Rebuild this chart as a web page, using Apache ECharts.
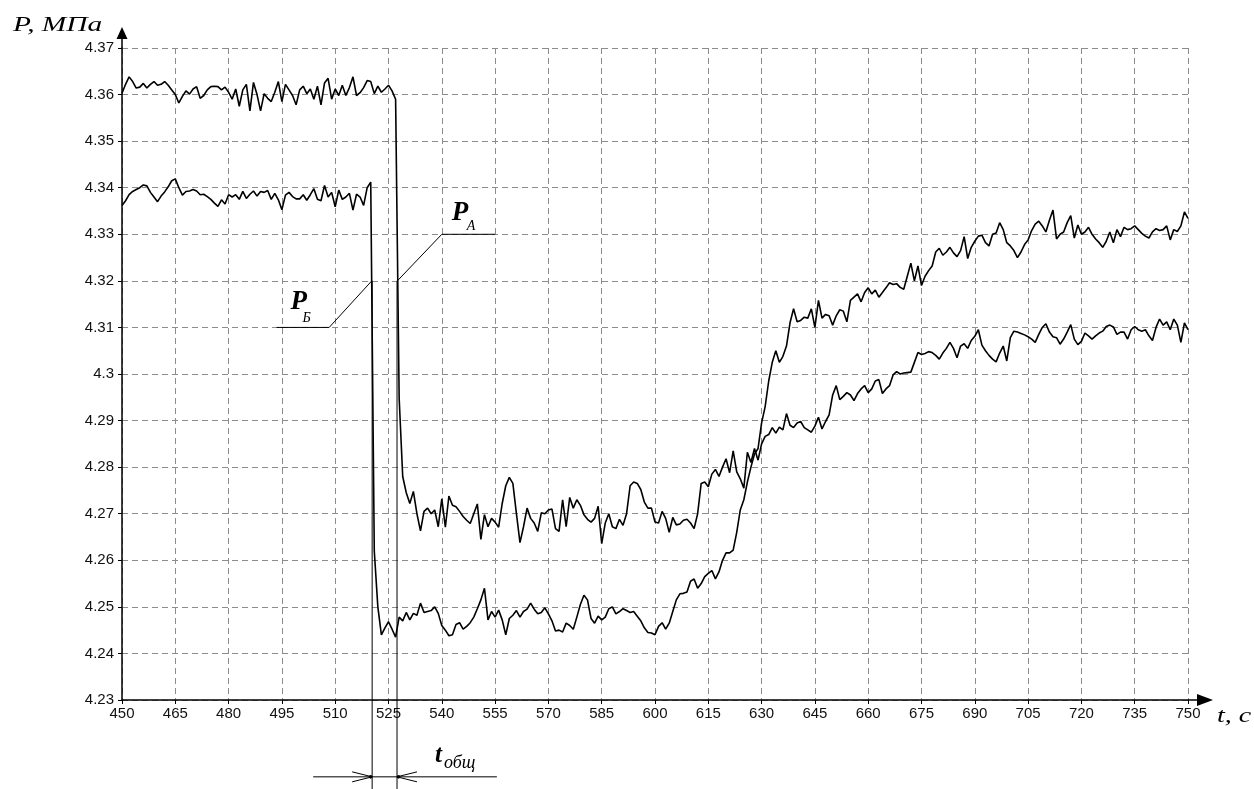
<!DOCTYPE html>
<html><head><meta charset="utf-8">
<script src="https://cdn.jsdelivr.net/npm/echarts@6/dist/echarts.min.js"></script>
<style>html,body{margin:0;padding:0;background:#fff}#c{width:1254px;height:789px}</style>
</head><body><div id="c"></div>
<script>
// time axis: samples every second from 450 s to 750 s
const timeStart = 450;
const timeStep = 1;
const xMin = 450, xMax = 750, xInterval = 15;
const yMin = 4.23, yMax = 4.37, yInterval = 0.01;
const yAxisName = 'P, МПа';
const xAxisName = 't, c';

// P_A : pressure (upper before the drop)
const pressureA = [
 4.3603,4.3622,4.3638,4.3628,4.3614,4.3616,4.3624,4.3614,4.3622,4.3628,
 4.3620,4.3622,4.3628,4.3620,4.3610,4.3600,4.3582,4.3596,4.3608,4.3601,
 4.3612,4.3617,4.3592,4.3598,4.3610,4.3617,4.3618,4.3617,4.3610,4.3616,
 4.3605,4.3590,4.3612,4.3575,4.3610,4.3622,4.3565,4.3626,4.3600,4.3565,
 4.3602,4.3592,4.3585,4.3605,4.3628,4.3585,4.3622,4.3610,4.3598,4.3578,
 4.3610,4.3618,4.3602,4.3612,4.3590,4.3618,4.3578,4.3625,4.3635,4.3590,
 4.3612,4.3598,4.3620,4.3598,4.3615,4.3638,4.3598,4.3604,4.3615,4.3630,
 4.3628,4.3602,4.3618,4.3605,4.3612,4.3620,4.3608,4.3590,4.2948,4.2780,
 4.2745,4.2722,4.2748,4.2700,4.2663,4.2705,4.2712,4.2700,4.2708,4.2672,
 4.2732,4.2671,4.2738,4.2718,4.2715,4.2705,4.2694,4.2686,4.2679,4.2700,
 4.2721,4.2645,4.2698,4.2672,4.2690,4.2682,4.2671,4.2722,4.2760,4.2778,
 4.2765,4.2700,4.2638,4.2672,4.2712,4.2690,4.2680,4.2662,4.2702,4.2700,
 4.2708,4.2710,4.2668,4.2662,4.2730,4.2672,4.2735,4.2712,4.2730,4.2718,
 4.2698,4.2688,4.2682,4.2690,4.2716,4.2636,4.2680,4.2700,4.2672,4.2668,
 4.2688,4.2675,4.2700,4.2760,4.2768,4.2765,4.2752,4.2725,4.2712,4.2712,
 4.2682,4.2680,4.2705,4.2690,4.2660,4.2692,4.2676,4.2678,4.2686,4.2688,
 4.2680,4.2668,4.2700,4.2765,4.2768,4.2758,4.2785,4.2795,4.2780,4.2800,
 4.2818,4.2788,4.2835,4.2790,4.2775,4.2755,4.2832,4.2810,4.2840,4.2815,
 4.2850,4.2866,4.2870,4.2885,4.2873,4.2886,4.2880,4.2915,4.2890,4.2885,
 4.2895,4.2898,4.2885,4.2880,4.2875,4.2888,4.2907,4.2882,4.2898,4.2912,
 4.2955,4.2975,4.2945,4.2952,4.2960,4.2955,4.2943,4.2958,4.2968,4.2975,
 4.2960,4.2968,4.2985,4.2988,4.2958,4.2968,4.2975,4.2998,4.3005,4.3000,
 4.3002,4.3003,4.3004,4.3025,4.3046,4.3042,4.3044,4.3048,4.3046,4.3040,
 4.3032,4.3045,4.3055,4.3068,4.3055,4.3035,4.3060,4.3065,4.3055,4.3072,
 4.3081,4.3095,4.3062,4.3050,4.3040,4.3032,4.3026,4.3045,4.3060,4.3028,
 4.3078,4.3092,4.3090,4.3087,4.3084,4.3080,4.3075,4.3068,4.3085,4.3100,
 4.3108,4.3090,4.3080,4.3078,4.3064,4.3075,4.3090,4.3106,4.3075,4.3063,
 4.3070,4.3088,4.3082,4.3075,4.3082,4.3088,4.3092,4.3102,4.3105,4.3101,
 4.3085,4.3090,4.3090,4.3075,4.3095,4.3102,4.3095,4.3092,4.3095,4.3082,
 4.3072,4.3100,4.3118,4.3105,4.3112,4.3095,4.3118,4.3105,4.3068,4.3110,
 4.3095
];

// P_Б : pressure (lower before the drop)
const pressureB = [
 4.3362,4.3372,4.3385,4.3392,4.3396,4.3400,4.3406,4.3404,4.3390,4.3380,
 4.3370,4.3382,4.3391,4.3402,4.3415,4.3419,4.3400,4.3384,4.3392,4.3393,
 4.3396,4.3393,4.3385,4.3386,4.3381,4.3375,4.3367,4.3360,4.3374,4.3365,
 4.3385,4.3380,4.3385,4.3375,4.3392,4.3377,4.3386,4.3393,4.3382,4.3392,
 4.3390,4.3394,4.3375,4.3388,4.3374,4.3353,4.3384,4.3390,4.3381,4.3376,
 4.3376,4.3385,4.3373,4.3385,4.3398,4.3375,4.3372,4.3405,4.3380,4.3390,
 4.3359,4.3395,4.3375,4.3380,4.3388,4.3352,4.3386,4.3380,4.3362,4.3400,
 4.3412,4.2620,4.2500,4.2440,4.2455,4.2468,4.2452,4.2435,4.2478,4.2470,
 4.2488,4.2472,4.2486,4.2482,4.2508,4.2488,4.2490,4.2492,4.2500,4.2486,
 4.2460,4.2450,4.2438,4.2440,4.2462,4.2466,4.2452,4.2458,4.2466,4.2478,
 4.2496,4.2515,4.2540,4.2472,4.2490,4.2478,4.2493,4.2472,4.2440,4.2475,
 4.2482,4.2492,4.2478,4.2490,4.2495,4.2508,4.2495,4.2485,4.2488,4.2498,
 4.2485,4.2470,4.2448,4.2450,4.2446,4.2465,4.2460,4.2452,4.2478,4.2505,
 4.2525,4.2515,4.2475,4.2465,4.2480,4.2472,4.2478,4.2496,4.2500,4.2485,
 4.2490,4.2496,4.2492,4.2488,4.2490,4.2480,4.2470,4.2455,4.2445,4.2444,
 4.2440,4.2458,4.2466,4.2452,4.2465,4.2490,4.2515,4.2528,4.2529,4.2532,
 4.2555,4.2560,4.2540,4.2550,4.2565,4.2572,4.2578,4.2560,4.2575,4.2600,
 4.2616,4.2616,4.2622,4.2660,4.2708,4.2730,4.2768,4.2800,4.2828,4.2840,
 4.2895,4.2930,4.2985,4.3025,4.3050,4.3025,4.3038,4.3060,4.3110,4.3140,
 4.3112,4.3115,4.3122,4.3120,4.3140,4.3100,4.3158,4.3120,4.3128,4.3125,
 4.3105,4.3125,4.3138,4.3135,4.3112,4.3158,4.3165,4.3172,4.3155,4.3175,
 4.3185,4.3172,4.3180,4.3165,4.3175,4.3185,4.3196,4.3192,4.3194,4.3186,
 4.3182,4.3210,4.3238,4.3200,4.3232,4.3190,4.3210,4.3222,4.3232,4.3262,
 4.3270,4.3255,4.3262,4.3272,4.3260,4.3252,4.3265,4.3295,4.3248,4.3272,
 4.3285,4.3296,4.3298,4.3282,4.3275,4.3300,4.3303,4.3325,4.3310,4.3282,
 4.3275,4.3265,4.3250,4.3262,4.3278,4.3288,4.3308,4.3322,4.3328,4.3318,
 4.3305,4.3330,4.3352,4.3290,4.3300,4.3305,4.3325,4.3340,4.3292,4.3320,
 4.3300,4.3305,4.3315,4.3300,4.3290,4.3282,4.3272,4.3285,4.3305,4.3282,
 4.3310,4.3295,4.3315,4.3310,4.3312,4.3318,4.3310,4.3302,4.3296,4.3292,
 4.3305,4.3312,4.3308,4.3310,4.3318,4.3288,4.3310,4.3306,4.3318,4.3348,
 4.3334
];

// annotation anchors (data coordinates)
const leaderB = [[493.5, 4.31], [508.3, 4.31], [520.3, 4.32]];
const leaderA = [[527.5, 4.32], [540.0, 4.33], [555.0, 4.33]];
const dropTimes = [520.4, 527.4];
const dimLevel = 4.2135;
const dimSpan = [503.8, 555.5];

const toPairs = vals => vals.map((v, i) => [timeStart + i * timeStep, v]);

const chart = echarts.init(document.getElementById('c'), null, {renderer: 'canvas'});
const lineStyle = {color: '#000', width: 1.6};
const labelFont = {fontFamily: 'Liberation Sans, Arial, sans-serif', fontSize: 15, color: '#111'};

chart.setOption({
  animation: false,
  backgroundColor: '#fff',
  grid: {left: 122, right: 66, top: 48, bottom: 89, containLabel: false, outerBoundsMode: 'none'},
  xAxis: {
    type: 'value', min: xMin, max: xMax, interval: xInterval,
    axisLine: {show: true, onZero: false, lineStyle: {color: '#000', width: 1.5}},
    axisTick: {show: true, length: 4, lineStyle: {color: '#000'}},
    axisLabel: Object.assign({margin: 6, showMinLabel: true, showMaxLabel: true, hideOverlap: false}, labelFont),
    splitLine: {show: true, lineStyle: {color: '#8c8c8c', type: [6, 4], width: 1}}
  },
  yAxis: {
    type: 'value', min: yMin, max: yMax, interval: yInterval,
    axisLine: {show: true, onZero: false, lineStyle: {color: '#000', width: 1.5}},
    axisTick: {show: true, length: 4, lineStyle: {color: '#000'}},
    axisLabel: Object.assign({margin: 8, showMinLabel: true, showMaxLabel: true, hideOverlap: false}, labelFont),
    splitLine: {show: true, lineStyle: {color: '#8c8c8c', type: [6, 4], width: 1}}
  },
  series: [
    {name: 'P_A', type: 'line', data: toPairs(pressureA), showSymbol: false, lineStyle: lineStyle, silent: true},
    {name: 'P_Б', type: 'line', data: toPairs(pressureB), showSymbol: false, lineStyle: lineStyle, silent: true}
  ]
});

function px(p) { return chart.convertToPixel({xAxisIndex: 0, yAxisIndex: 0}, p); }

const g = [];
const blk = {stroke: '#000', lineWidth: 1};
const serif = 'Liberation Serif, serif';
// axis extensions and arrows
const origin = px([xMin, yMin]);
const topLeft = px([xMin, yMax]);
const botRight = px([xMax, yMin]);
g.push({type: 'line', shape: {x1: origin[0], y1: topLeft[1], x2: origin[0], y2: topLeft[1] - 12}, style: {stroke: '#000', lineWidth: 1.5}});
g.push({type: 'polygon', shape: {points: [[origin[0], topLeft[1] - 21], [origin[0] - 5.5, topLeft[1] - 9], [origin[0] + 5.5, topLeft[1] - 9]]}, style: {fill: '#000'}});
g.push({type: 'line', shape: {x1: botRight[0], y1: origin[1], x2: botRight[0] + 12, y2: origin[1]}, style: {stroke: '#000', lineWidth: 1.5}});
g.push({type: 'polygon', shape: {points: [[botRight[0] + 25, origin[1]], [botRight[0] + 9, origin[1] - 6], [botRight[0] + 9, origin[1] + 6]]}, style: {fill: '#000'}});
// axis names (wide italic lettering as in the original)
g.push({type: 'text', x: 13, y: 25, scaleX: 1.4, style: {text: yAxisName, x: 0, y: 0, fontFamily: serif, fontStyle: 'italic', fontSize: 21, fill: '#000', verticalAlign: 'middle', align: 'left'}});
g.push({type: 'text', x: botRight[0] + 29, y: origin[1] + 17, scaleX: 1.4, style: {text: xAxisName, x: 0, y: 0, fontFamily: serif, fontStyle: 'italic', fontSize: 20, fill: '#000', verticalAlign: 'middle', align: 'left'}});
// leaders
g.push({type: 'polyline', shape: {points: leaderB.map(px)}, style: blk});
g.push({type: 'polyline', shape: {points: leaderA.map(px)}, style: blk});
const lb = px(leaderB[0]);
g.push({type: 'text', style: {text: 'P', x: lb[0] + 14, y: lb[1] - 25, fontFamily: serif, fontStyle: 'italic', fontWeight: 'bold', fontSize: 27, fill: '#000', verticalAlign: 'middle'}});
g.push({type: 'text', style: {text: 'Б', x: lb[0] + 26, y: lb[1] - 9, fontFamily: serif, fontStyle: 'italic', fontSize: 14, fill: '#000', verticalAlign: 'middle'}});
const la = px(leaderA[1]);
g.push({type: 'text', style: {text: 'P', x: la[0] + 10, y: la[1] - 21, fontFamily: serif, fontStyle: 'italic', fontWeight: 'bold', fontSize: 27, fill: '#000', verticalAlign: 'middle'}});
g.push({type: 'text', style: {text: 'A', x: la[0] + 25, y: la[1] - 8, fontFamily: serif, fontStyle: 'italic', fontSize: 14, fill: '#000', verticalAlign: 'middle'}});
// vertical drop markers and dimension line
const v0 = px([dropTimes[0], 4.32]);
const v1 = px([dropTimes[1], 4.32]);
g.push({type: 'line', shape: {x1: v0[0], y1: v0[1], x2: v0[0], y2: 800}, style: blk});
g.push({type: 'line', shape: {x1: v1[0], y1: v1[1], x2: v1[0], y2: 800}, style: blk});
const d0 = px([dimSpan[0], dimLevel]);
const d1 = px([dimSpan[1], dimLevel]);
const dy = d0[1];
g.push({type: 'line', shape: {x1: d0[0], y1: dy, x2: d1[0], y2: dy}, style: blk});
g.push({type: 'polyline', shape: {points: [[v0[0] - 20, dy - 5], [v0[0], dy], [v0[0] - 20, dy + 5]]}, style: blk});
g.push({type: 'polyline', shape: {points: [[v1[0] + 20, dy - 5], [v1[0], dy], [v1[0] + 20, dy + 5]]}, style: blk});
g.push({type: 'circle', shape: {cx: v0[0] - 1.5, cy: dy, r: 1.8}, style: {fill: '#000'}});
g.push({type: 'circle', shape: {cx: v1[0] + 1.5, cy: dy, r: 1.8}, style: {fill: '#000'}});
g.push({type: 'text', style: {text: 't', x: v1[0] + 38, y: dy - 21, fontFamily: serif, fontStyle: 'italic', fontWeight: 'bold', fontSize: 25, fill: '#000', verticalAlign: 'middle'}});
g.push({type: 'text', style: {text: 'общ', x: v1[0] + 47, y: dy - 14, fontFamily: serif, fontStyle: 'italic', fontSize: 18, fill: '#000', verticalAlign: 'middle'}});

chart.setOption({graphic: g.map(e => Object.assign({silent: true, z: 100}, e))});
</script>
</body></html>
